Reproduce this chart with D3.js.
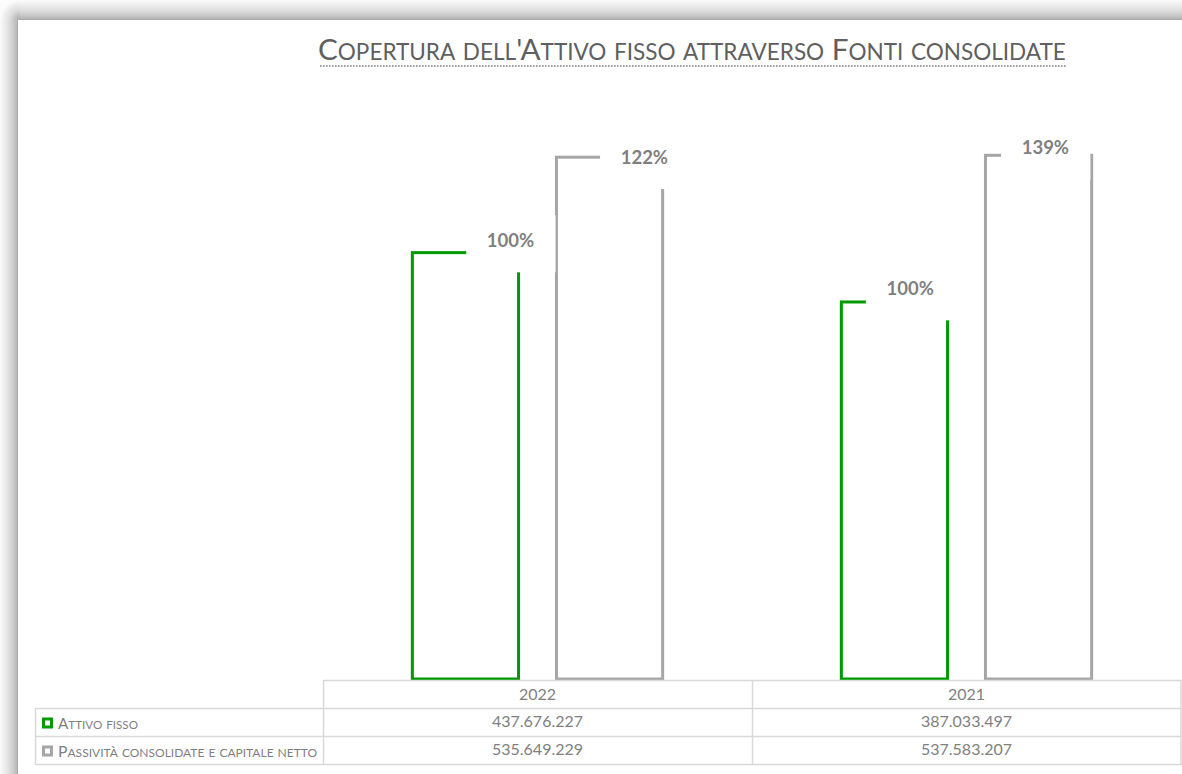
<!DOCTYPE html>
<html>
<head>
<meta charset="utf-8">
<script src="https://cdn.jsdelivr.net/npm/d3@7"></script>
<style>
  html, body { margin: 0; padding: 0; background: #fff; }
  svg { display: block; }
</style>
</head>
<body>
<svg id="chart" width="1182" height="774"></svg>
<script>
// ---- data ----
const categories = ["2022", "2021"];
const seriesNames = ["Attivo fisso", "Passività consolidate e capitale netto"];
const attivoFisso = [437676227, 387033497];
const passivitaConsolidate = [535649229, 537583207];
const seriesColors = ["#009a00", "#a6a6a6"];
const titleText = "Copertura dell'Attivo fisso attraverso Fonti consolidate";

// manual data-label placement, relative to each bar's top-right corner
const labelNudge = [
  [[-8, -12.6], [-18.3, -0.4]],
  [[-37.4, -13.9], [-46.3, -7.9]]
];

const seriesValues = [attivoFisso, passivitaConsolidate];

const svg = d3.select("#chart");
const W = 1182, H = 774;
const FONT = "Lato, 'Open Sans', 'DejaVu Sans', sans-serif";

// Small-caps text: capitals at full size, lowercase letters drawn as
// reduced-size capitals, grouped into runs of tspans.
function smallCaps(sel, str, size, ratio) {
  const runs = [];
  for (const ch of str) {
    const lower = ch !== ch.toUpperCase();
    const last = runs[runs.length - 1];
    if (last && last.lower === lower) last.text += ch;
    else runs.push({ lower, text: ch });
  }
  sel.selectAll("tspan").remove();
  runs.forEach(r => {
    sel.append("tspan")
      .style("font-size", (r.lower ? size * ratio : size).toFixed(2) + "px")
      .text(r.lower ? r.text.toUpperCase() : r.text);
  });
}
// fit a small-caps text to a target width
function fitSmallCaps(sel, str, size, ratio, width) {
  smallCaps(sel, str, size, ratio);
  const w = sel.node().getComputedTextLength();
  smallCaps(sel, str, size * width / w, ratio);
}

// ---- chart frame with soft shadow on top and left ----
const defs = svg.append("defs");
const gTop = defs.append("linearGradient").attr("id", "shTop")
  .attr("x1", 0).attr("y1", 0).attr("x2", 0).attr("y2", 1);
const gLeft = defs.append("linearGradient").attr("id", "shLeft")
  .attr("x1", 0).attr("y1", 0).attr("x2", 1).attr("y2", 0);
[[0, "#fbfbfb"], [0.2, "#f0f0f0"], [0.45, "#e2e2e2"], [0.7, "#cfcfcf"], [0.92, "#b9b9b9"], [1, "#a2a2a2"]]
  .forEach(([o, c]) => {
    gTop.append("stop").attr("offset", o).attr("stop-color", c);
    gLeft.append("stop").attr("offset", o).attr("stop-color", c);
  });
svg.append("rect").attr("width", W).attr("height", H).attr("fill", "#fff");
svg.append("rect").attr("x", 0).attr("y", 0).attr("width", W).attr("height", 20).attr("fill", "url(#shTop)");
svg.append("rect").attr("x", 0).attr("y", 20).attr("width", 18).attr("height", H - 20).attr("fill", "url(#shLeft)");
const corner = defs.append("radialGradient").attr("id", "shCorner")
  .attr("cx", 1).attr("cy", 1).attr("r", 1);
corner.append("stop").attr("offset", 0).attr("stop-color", "#a8a8a8");
corner.append("stop").attr("offset", 0.5).attr("stop-color", "#dcdcdc");
corner.append("stop").attr("offset", 1).attr("stop-color", "#fbfbfb");
svg.append("rect").attr("x", 0).attr("y", 0).attr("width", 20).attr("height", 20).attr("fill", "url(#shCorner)");

// ---- title ----
const title = svg.append("text")
  .attr("x", 318).attr("y", 60)
  .attr("fill", "#5f5f5f")
  .style("font-family", FONT);
fitSmallCaps(title, titleText, 30, 0.76, 748);
svg.append("line")
  .attr("x1", 320).attr("x2", 1066).attr("y1", 66).attr("y2", 66)
  .attr("stroke", "#808080").attr("stroke-width", 1.6)
  .attr("stroke-dasharray", "1.6 1.4");

// ---- scales ----
const x0 = d3.scaleBand().domain(categories).range([323, 1181]).padding(0);
const x1 = d3.scaleBand().domain(d3.range(seriesNames.length))
  .range([0, x0.bandwidth()]).paddingInner(0.263).paddingOuter(0.62);
const y = d3.scaleLinear().domain([0, 600e6]).range([679, 94.5]);

// ---- bars (outline only) ----
const bars = [];
categories.forEach((cat, ci) => {
  seriesValues.forEach((vals, si) => {
    bars.push({ cat, ci, si, value: vals[ci] });
  });
});

const gBars = svg.append("g");
gBars.selectAll("rect").data(bars).join("rect")
  .attr("x", d => x0(d.cat) + x1(d.si))
  .attr("y", d => y(d.value))
  .attr("width", x1.bandwidth())
  .attr("height", d => y(0) - y(d.value))
  .attr("fill", "none")
  .attr("stroke", d => seriesColors[d.si])
  .attr("stroke-width", 3);

// ---- data labels: coverage ratio vs Attivo fisso ----
const pct = d3.format(".0%");
const gLab = svg.append("g");
bars.forEach(d => {
  const [dx, dy] = labelNudge[d.ci][d.si];
  const cx = x0(d.cat) + x1(d.si) + x1.bandwidth() + dx;
  const cy = y(d.value) + dy;
  gLab.append("rect")
    .attr("x", cx - 44.3).attr("y", cy - 25)
    .attr("width", 89.3).attr("height", 57.3)
    .attr("fill", "#fff");
  gLab.append("text")
    .attr("x", cx).attr("y", cy + 6.8)
    .attr("text-anchor", "middle")
    .attr("fill", "#7f7f7f")
    .style("font-family", FONT)
    .style("font-weight", 700)
    .style("font-size", "18.5px")
    .text(pct(d.value / attivoFisso[d.ci]));
});

// ---- data table ----
const itLocale = d3.formatLocale({ decimal: ",", thousands: ".", grouping: [3], currency: ["€", ""] });
const fmt = itLocale.format(",d");
const gridColor = "#d9d9d9";
const rowY = [680.5, 708.5, 736.5, 764.5];
const gT = svg.append("g").attr("stroke", gridColor).attr("stroke-width", 1.5);
gT.append("line").attr("x1", 323).attr("x2", W).attr("y1", rowY[0]).attr("y2", rowY[0]);
rowY.slice(1).forEach(v => gT.append("line").attr("x1", 35).attr("x2", W).attr("y1", v).attr("y2", v));
gT.append("line").attr("x1", 35.5).attr("x2", 35.5).attr("y1", rowY[1]).attr("y2", rowY[3]);
x0.domain().forEach(c => {
  const xv = x0(c) + 0.5;
  gT.append("line").attr("x1", xv).attr("x2", xv).attr("y1", rowY[0]).attr("y2", rowY[3]);
});
gT.append("line").attr("x1", 1181).attr("x2", 1181).attr("y1", rowY[0]).attr("y2", rowY[3]);

// header row
svg.append("g").selectAll("text").data(categories).join("text")
  .attr("x", d => x0(d) + x0.bandwidth() / 2)
  .attr("y", 699.5)
  .attr("text-anchor", "middle")
  .attr("fill", "#808080")
  .style("font-family", FONT)
  .style("font-size", "16px")
  .text(d => d);

// value rows + legend keys
const legendWidths = [80, 259];
seriesNames.forEach((name, si) => {
  const base = rowY[si + 1];
  svg.append("rect")
    .attr("x", 43.5).attr("y", base + 10.5)
    .attr("width", 8).attr("height", 8)
    .attr("fill", "#fff")
    .attr("stroke", seriesColors[si]).attr("stroke-width", 3);
  const t = svg.append("text")
    .attr("x", 58).attr("y", base + 20)
    .attr("fill", "#7f7f7f")
    .style("font-family", FONT);
  fitSmallCaps(t, name, 15, 0.76, legendWidths[si]);

  svg.append("g").selectAll("text").data(categories).join("text")
    .attr("x", d => x0(d) + x0.bandwidth() / 2)
    .attr("y", base + 18)
    .attr("text-anchor", "middle")
    .attr("fill", "#808080")
    .style("font-family", FONT)
    .style("font-size", "16px")
    .text((d, ci) => fmt(seriesValues[si][ci]));
});
</script>
</body>
</html>
